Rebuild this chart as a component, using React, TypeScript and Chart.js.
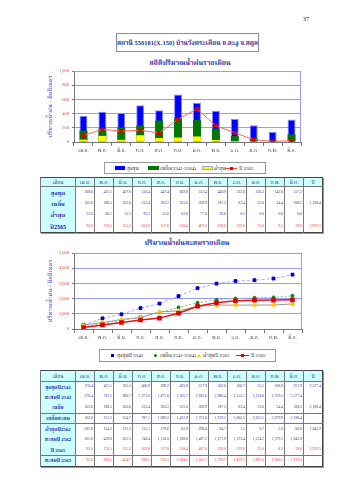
import React, { useEffect, useRef } from "react";
import { Chart, registerables } from "chart.js";
Chart.register(...registerables);

const months = ["เม.ย.", "พ.ค.", "มิ.ย.", "ก.ค.", "ส.ค.", "ก.ย.", "ต.ค.", "พ.ย.", "ธ.ค.", "ม.ค.", "ก.พ.", "มี.ค."];
const maxMonthly = [368.6, 425.1, 407.0, 516.4, 447.4, 669.8, 551.4, 440.9, 322.6, 236.2, 141.6, 317.2];
const meanMonthly = [162.6, 188.5, 203.6, 232.4, 303.2, 331.6, 309.9, 187.3, 83.4, 53.0, 24.4, 108.5];
const minMonthly = [33.0, 86.1, 31.1, 95.1, 55.6, 62.8, 77.8, 28.8, 0.1, 0.0, 0.0, 0.0];
const rain2565 = [93.0, 176.5, 155.2, 163.8, 127.8, 318.4, 467.0, 228.0, 129.6, 33.0, 8.2, 18.8];
const max2542 = [276.4, 425.1, 265.2, 406.9, 298.2, 493.9, 517.9, 302.8, 168.7, 55.5, 108.9, 257.9];
const cumMax2542 = [276.4, 701.5, 966.7, 1373.6, 1671.8, 2165.7, 2683.6, 2986.4, 3155.1, 3210.6, 3319.5, 3577.4];
const cumMean = [162.6, 351.1, 554.7, 787.1, 1090.3, 1421.9, 1731.8, 1919.1, 2002.5, 2055.5, 2079.9, 2188.4];
const min2562 = [265.8, 154.2, 211.3, 115.1, 379.6, 62.8, 298.4, 84.7, 1.5, 0.7, 5.0, 66.8];
const cumMin2562 = [265.8, 420.0, 631.3, 746.4, 1126.0, 1188.8, 1487.2, 1571.9, 1573.4, 1574.1, 1579.1, 1645.9];
const cum2565 = [93.0, 269.5, 424.7, 588.5, 716.3, 1034.7, 1501.7, 1729.7, 1859.3, 1892.3, 1900.5, 1919.3];
const totalMax2542 = 3577.4;
const totalMean = 2188.4;
const totalMin2562 = 1645.9;
const total2565 = 1919.3;

const FONT = '"Liberation Serif", "Noto Serif Thai", "Noto Sans Thai", serif';
Chart.defaults.font.family = FONT;

const fmt = (v: number) => v.toLocaleString("en-US", { minimumFractionDigits: 1, maximumFractionDigits: 1 });

const borderPlugin = {
  id: "areaBorder",
  afterDraw(chart: any) {
    const { ctx, chartArea: a } = chart;
    ctx.save();
    ctx.strokeStyle = "#9999ff";
    ctx.lineWidth = 1;
    ctx.beginPath();
    ctx.moveTo(a.left, a.top + 0.5);
    ctx.lineTo(a.right - 0.5, a.top + 0.5);
    ctx.lineTo(a.right - 0.5, a.bottom);
    ctx.stroke();
    ctx.restore();
  },
};

function xScale() {
  return {
    offset: true,
    grid: { offset: true, color: "transparent", tickColor: "#777", tickLength: 4, drawOnChartArea: false },
    border: { color: "#777" },
    ticks: { color: "#333366", font: { size: 5 }, padding: 2, maxRotation: 0, autoSkip: false },
    afterFit: (s: any) => { s.height = 16; },
  };
}

function yScale(max: number, step: number, major: number, width: number) {
  return {
    min: 0,
    max,
    ticks: {
      stepSize: step,
      color: "#dd4444",
      font: { size: 4.5 },
      padding: 3,
      callback: (v: any) => (Number(v) % major === 0 ? Number(v).toLocaleString("en-US") : ""),
    },
    grid: {
      color: (c: any) => (c.tick && c.tick.value % major === 0 && c.tick.value > 0 ? "#9999ff" : "transparent"),
      tickColor: "#777",
      tickLength: 2,
    },
    border: { color: "#777" },
    title: { display: true, text: "ปริมาณน้ำฝน - มิลลิเมตร", color: "#3333cc", font: { size: 6 }, padding: 0 },
    afterFit: (s: any) => { s.width = width; },
  };
}

function BarChart() {
  const ref = useRef<HTMLCanvasElement>(null);
  useEffect(() => {
    const bar = { grouped: false, barPercentage: 0.42, categoryPercentage: 1 };
    const chart = new Chart(ref.current!, {
      type: "bar",
      data: {
        labels: months,
        datasets: [
          { type: "line", label: "ปี 2565", data: rain2565, borderColor: "#ff6666", borderWidth: 1, pointStyle: "rect", pointRadius: 2, pointBackgroundColor: "#dd0000", pointBorderColor: "#dd0000", order: 0 } as any,
          { label: "ต่ำสุด", data: minMonthly, backgroundColor: "#ffff00", order: 1, ...bar },
          { label: "เฉลี่ย", data: meanMonthly, backgroundColor: "#007700", order: 2, ...bar },
          { label: "สูงสุด", data: maxMonthly, backgroundColor: "#0000ff", borderColor: "#8888ff", borderWidth: 1, order: 3, ...bar },
        ],
      },
      options: {
        animation: false,
        responsive: false,
        layout: { padding: { top: 15, right: 9, left: 7, bottom: 0 } },
        plugins: { legend: { display: false }, tooltip: { enabled: false } },
        scales: { x: xScale() as any, y: yScale(1000, 100, 200, 27) as any },
      },
      plugins: [borderPlugin],
    });
    return () => chart.destroy();
  }, []);
  return <canvas ref={ref} width={270} height={102} style={{ position: "absolute", left: 40, top: 56 }} />;
}

function LineChart() {
  const ref = useRef<HTMLCanvasElement>(null);
  useEffect(() => {
    const chart = new Chart(ref.current!, {
      type: "line",
      data: {
        labels: months,
        datasets: [
          { label: "ปี 2565", data: cum2565, borderColor: "#ee1111", borderWidth: 1.5, pointStyle: "rect", pointRadius: 2.2, pointBackgroundColor: "#dd0000", pointBorderColor: "#dd0000", order: 0 },
          { label: "ต่ำสุดปี 2562", data: cumMin2562, borderColor: "#999999", borderWidth: 1, pointStyle: "triangle", pointRadius: 2.3, pointBackgroundColor: "#ffcc00", pointBorderColor: "#ffcc00", order: 1 },
          { label: "เฉลี่ย(2541-2564)", data: cumMean, borderColor: "#88bb88", borderWidth: 1, borderDash: [2, 2], pointStyle: "circle", pointRadius: 1.5, pointBackgroundColor: "#008800", pointBorderColor: "#008800", order: 2 },
          { label: "สูงสุดปี 2542", data: cumMax2542, borderColor: "#aaaaff", borderWidth: 1, borderDash: [3, 2], pointStyle: "rect", pointRadius: 2, pointBackgroundColor: "#0000cc", pointBorderColor: "#0000cc", order: 3 },
        ],
      },
      options: {
        animation: false,
        responsive: false,
        layout: { padding: { top: 6, right: 8, left: 7, bottom: 0 } },
        plugins: { legend: { display: false }, tooltip: { enabled: false } },
        scales: { x: xScale() as any, y: yScale(5000, 500, 1000, 27) as any },
      },
      plugins: [borderPlugin],
    });
    return () => chart.destroy();
  }, []);
  return <canvas ref={ref} width={270} height={98} style={{ position: "absolute", left: 40, top: 247 }} />;
}

const abs = (left: number, top: number, extra: any = {}) => ({ position: "absolute" as const, left, top, ...extra });

function Txt({ x, y, children, size = 5, color = "#222", bold = false }: any) {
  return (
    <div style={abs(x, y - size * 0.7, { fontSize: size, color, fontWeight: bold ? "bold" : "normal", lineHeight: 1.4 + "", whiteSpace: "nowrap" })}>{children}</div>
  );
}

type Row = { label: string; values: number[]; total?: number; red?: boolean; sep?: boolean; sepAfter?: boolean };

function DataTable({ top, headerH, rowH, rows, labelSize }: { top: number; headerH: number; rowH: number; rows: Row[]; labelSize: number }) {
  const cellBorder = "1px solid #777";
  return (
    <table
      style={{
        position: "absolute", left: 40, top, width: 282, borderCollapse: "collapse", tableLayout: "fixed",
        border: "1px solid #444", boxShadow: "1px 1px 0 #999", fontFamily: FONT,
      }}
    >
      <colgroup>
        <col style={{ width: 35 }} />
        {Array.from({ length: 13 }).map((_, i) => <col key={i} style={{ width: 19 }} />)}
      </colgroup>
      <tbody>
        <tr style={{ height: headerH }}>
          {["เดือน", ...months, "ปี"].map((h, i) => (
            <td key={i} style={{ background: "#ccffff", borderLeft: cellBorder, borderBottom: cellBorder, fontSize: 5, color: "#2222aa", textAlign: "center", padding: 0, lineHeight: 1 }}>{h}</td>
          ))}
        </tr>
        {rows.map((r, ri) => (
          <tr key={ri} style={{ height: rowH, borderTop: r.sep ? cellBorder : undefined, borderBottom: r.sepAfter ? cellBorder : undefined }}>
            <td style={{ background: "#ccffff", borderLeft: cellBorder, fontSize: labelSize, color: "#2222aa", fontWeight: "bold", textAlign: "center", padding: 0, lineHeight: 1, whiteSpace: "nowrap" }}>{r.label}</td>
            {r.values.map((v, i) => (
              <td key={i} style={{ borderLeft: cellBorder, fontSize: 3.8, color: r.red ? "#dd3333" : "#333388", textAlign: "right", padding: "0 1px 0 0", lineHeight: 1 }}>{fmt(v)}</td>
            ))}
            <td style={{ borderLeft: cellBorder, fontSize: 3.8, color: r.red ? "#dd3333" : "#333388", textAlign: "right", padding: "0 1px 0 0", lineHeight: 1 }}>{r.total !== undefined ? fmt(r.total) : ""}</td>
          </tr>
        ))}
      </tbody>
    </table>
  );
}

export default function App() {
  const rows1: Row[] = [
    { label: "สูงสุด", values: maxMonthly },
    { label: "เฉลี่ย", values: meanMonthly, total: totalMean },
    { label: "ต่ำสุด", values: minMonthly },
    { label: "ปี2565", values: rain2565, total: total2565, red: true },
  ];
  const rows2: Row[] = [
    { label: "สูงสุดปี2542", values: max2542, total: totalMax2542 },
    { label: "สะสมปี 2542", values: cumMax2542 },
    { label: "เฉลี่ย", values: meanMonthly, total: totalMean },
    { label: "เฉลี่ยสะสม", values: cumMean, sep: true, sepAfter: true },
    { label: "ต่ำสุดปี2562", values: min2562, total: totalMin2562 },
    { label: "สะสมปี 2562", values: cumMin2562 },
    { label: "ปี 2565", values: rain2565, total: total2565, red: true },
    { label: "สะสมปี 2565", values: cum2565, red: true, sep: true },
  ];
  return (
    <div style={{ position: "absolute", left: 0, top: 0, width: 339, height: 480, background: "#fff", fontFamily: FONT, overflow: "hidden" }}>
      <Txt x={303} y={19} size={6}>37</Txt>
      <div style={abs(116, 33, { width: 143, height: 19, border: "1px solid #8888cc", boxSizing: "border-box", display: "flex", alignItems: "center", justifyContent: "center", fontSize: 6.5, fontWeight: "bold", color: "#333399", whiteSpace: "nowrap" })}>
        สถานี 550181(X.150) บ้านวังตระเคียน อ.ละงู จ.สตูล
      </div>
      <div style={abs(120, 57, { width: 140, textAlign: "center", fontSize: 7, fontWeight: "bold", color: "#3333aa", lineHeight: "12px" })}>สถิติปริมาณน้ำฝนรายเดือน</div>
      <BarChart />
      <div style={abs(104, 162, { width: 162, height: 12, border: "1px solid #999", boxSizing: "border-box" })} />
      <div style={abs(115, 166, { width: 10, height: 4, background: "#0000ff" })} />
      <Txt x={127} y={168}>สูงสุด</Txt>
      <div style={abs(148, 166, { width: 11, height: 4, background: "#007700" })} />
      <Txt x={160} y={168}>เฉลี่ย(2541-2564)</Txt>
      <div style={abs(202, 166, { width: 11, height: 4, background: "#ffff00", border: "0.5px solid #aaa", boxSizing: "border-box" })} />
      <Txt x={214} y={168}>ต่ำสุด</Txt>
      <div style={abs(225, 167.5, { width: 12, height: 1, background: "#ff4444" })} />
      <div style={abs(229.5, 166.5, { width: 3, height: 3, background: "#dd0000" })} />
      <Txt x={239} y={168}>ปี 2565</Txt>
      <DataTable top={177} headerH={9} rowH={11.5} rows={rows1} labelSize={6} />
      <div style={abs(117, 237, { width: 140, textAlign: "center", fontSize: 7, fontWeight: "bold", color: "#3333aa", lineHeight: "12px" })}>ปริมาณน้ำฝนสะสมรายเดือน</div>
      <LineChart />
      <div style={abs(99, 349, { width: 177, height: 13, border: "1px solid #999", boxSizing: "border-box" })} />
      <div style={abs(110.5, 354, { width: 3, height: 3, background: "#0000cc" })} />
      <Txt x={117} y={355.5}>สูงสุดปี 2542</Txt>
      <div style={abs(153.5, 354, { width: 3, height: 3, borderRadius: 2, background: "#008800" })} />
      <Txt x={160} y={355.5}>เฉลี่ย(2541-2564)</Txt>
      <div style={abs(196.5, 353.5, { width: 0, height: 0, borderLeft: "2px solid transparent", borderRight: "2px solid transparent", borderBottom: "3.5px solid #ffcc00" })} />
      <Txt x={203} y={355.5}>ต่ำสุดปี 2562</Txt>
      <div style={abs(236, 355, { width: 13, height: 1.2, background: "#ee1111" })} />
      <div style={abs(241, 354, { width: 3, height: 3, background: "#dd0000" })} />
      <Txt x={251} y={355.5}>ปี 2565</Txt>
      <DataTable top={370} headerH={11} rowH={10.6} rows={rows2} labelSize={5} />
    </div>
  );
}
